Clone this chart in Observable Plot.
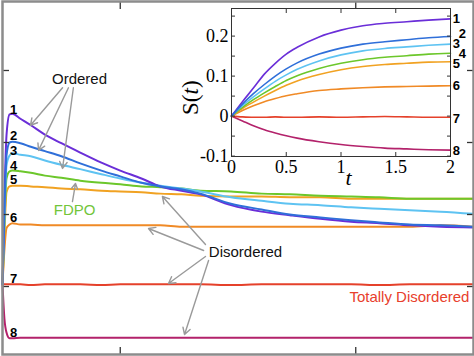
<!DOCTYPE html>
<html><head><meta charset="utf-8">
<script src="https://cdn.jsdelivr.net/npm/d3@7"></script>
<script src="https://cdn.jsdelivr.net/npm/@observablehq/plot@0.6"></script>
<style>
html,body{margin:0;padding:0;background:#fff;}
#wrap{position:relative;width:474px;height:356px;overflow:hidden;}
#inset{position:absolute;left:170px;top:0;}
</style></head><body>
<div id="wrap"><div id="main"></div><div id="inset"></div></div>
<script>
// ---------- main panel data (arbitrary units, unlabelled axes) ----------
const tMain = [0, 0.008, 0.017, 0.03, 0.042, 0.076, 0.12, 0.18, 0.25, 0.33, 0.42, 0.5, 0.59, 0.67, 0.76, 0.84, 0.97, 1.1, 1.22, 1.35, 1.48, 1.6, 1.73, 1.86, 2.0];
const main1 = [0.03,1.19,2.10,2.39,2.40,2.33,2.24,2.11,1.99,1.86,1.72,1.61,1.50,1.39,1.33,1.28,1.13,1.04,0.99,0.94,0.90,0.88,0.85,0.83,0.82];
const main2 = [0.03,1.06,1.82,2.00,2.01,1.99,1.94,1.88,1.81,1.71,1.61,1.53,1.44,1.39,1.35,1.29,1.15,1.07,1.00,0.96,0.92,0.89,0.86,0.85,0.83];
const main3 = [0.03,0.92,1.68,1.82,1.85,1.83,1.81,1.75,1.69,1.63,1.56,1.50,1.44,1.40,1.36,1.32,1.24,1.19,1.15,1.13,1.10,1.08,1.06,1.04,1.01];
const main4 = [0.03,0.85,1.50,1.60,1.61,1.60,1.58,1.54,1.51,1.47,1.44,1.42,1.39,1.38,1.36,1.33,1.32,1.29,1.28,1.26,1.25,1.24,1.22,1.22,1.22];
const main5 = [0.03,0.71,1.31,1.39,1.40,1.40,1.39,1.38,1.36,1.35,1.33,1.32,1.31,1.29,1.28,1.26,1.25,1.25,1.24,1.24,1.22,1.22,1.22,1.22,1.22];
const main6 = [0.03,0.50,0.81,0.86,0.88,0.86,0.86,0.85,0.85,0.85,0.85,0.85,0.85,0.85,0.83,0.83,0.83,0.83,0.83,0.83,0.83,0.83,0.83,0.85,0.83];
const main7 = [0.03,0.03,0.03,0.03,0.03,0.03,0.02,0.03,0.03,0.03,0.02,0.03,0.03,0.03,0.03,0.03,0.02,0.03,0.03,0.03,0.03,0.02,0.03,0.03,0.03];
const main8 = [0.03,-0.44,-0.64,-0.72,-0.72,-0.71,-0.71,-0.71,-0.71,-0.71,-0.71,-0.71,-0.71,-0.71,-0.71,-0.71,-0.71,-0.71,-0.71,-0.71,-0.71,-0.71,-0.71,-0.71,-0.71];
const mainXTicks = [0.5, 1.5];
const mainYTicks = [0, 1, 2, 3];

const seriesNames = ["1","2","3","4","5","6","7","8"];
const mainLabelT = [0.047,0.047,0.047,0.047,0.047,0.047,0.047,0.047];
const mainLabelV = [2.46, 2.09, 1.88, 1.68, 1.48, 0.95, 0.107, -0.648];

// annotations (main data units)
const annoText = ["Ordered", "FDPO", "Disordered", "Totally Disordered"];
const annoT = [0.327, 0.306, 1.032, 1.728];
const annoV = [2.875, 1.056, 0.472, -0.153];
const arrowT1 = [0.255, 0.280, 0.301, 0.297, 0.862, 0.854, 0.862, 0.875];
const arrowV1 = [2.76, 2.76, 2.76, 1.18, 0.583, 0.50, 0.417, 0.361];
const arrowT2 = [0.119, 0.153, 0.255, 0.310, 0.679, 0.620, 0.705, 0.773];
const arrowV2 = [2.24, 1.89, 1.64, 1.43, 1.25, 0.806, 0.042, -0.667];

// ---------- inset data: S(t) ----------
const tInset = [0, 0.1, 0.2, 0.3, 0.4, 0.5, 0.6, 0.8, 1.0, 1.2, 1.4, 1.6, 1.8, 2.0];
const s1 = [0, 0.036, 0.070, 0.105, 0.132, 0.155, 0.172, 0.198, 0.215, 0.226, 0.232, 0.236, 0.240, 0.243];
const s2 = [0, 0.030, 0.056, 0.079, 0.100, 0.118, 0.133, 0.155, 0.170, 0.180, 0.186, 0.191, 0.196, 0.199];
const s3 = [0, 0.026, 0.048, 0.068, 0.087, 0.103, 0.117, 0.138, 0.153, 0.163, 0.169, 0.173, 0.177, 0.180];
const s4 = [0, 0.022, 0.041, 0.058, 0.074, 0.089, 0.101, 0.119, 0.132, 0.141, 0.147, 0.151, 0.155, 0.157];
const s5 = [0, 0.019, 0.035, 0.050, 0.064, 0.077, 0.088, 0.104, 0.116, 0.124, 0.129, 0.132, 0.135, 0.136];
const s6 = [0, 0.014, 0.026, 0.036, 0.044, 0.051, 0.056, 0.064, 0.068, 0.071, 0.073, 0.074, 0.075, 0.076];
const s7 = [0, -0.002, -0.003, -0.003, -0.002, -0.003, -0.003, -0.002, -0.003, -0.002, -0.001, -0.002, -0.003, -0.003];
const s8 = [0, -0.012, -0.024, -0.034, -0.042, -0.049, -0.055, -0.064, -0.071, -0.076, -0.080, -0.082, -0.084, -0.085];
const insetXTicks = [0, 0.5, 1, 1.5, 2];
const insetYLabelTicks = [-0.1, 0, 0.1, 0.2];
const insetYTicks = [-0.1, -0.05, 0, 0.05, 0.1, 0.15, 0.2, 0.25];
const insetLabelT = [2.02, 2.075, 2.02, 2.075, 2.02, 2.02, 2.02, 2.02];
const insetLabelV = [0.243, 0.205, 0.180, 0.155, 0.130, 0.076, -0.007, -0.086];
const insetYTitle = "S(t)", insetYTitleT = -0.374, insetYTitleV = 0.046;
const insetXTitle = "t", insetXTitleT = 1.068, insetXTitleV = -0.154;

// ---------- styling ----------
const colors = ["#6a2ed8", "#2f6fd9", "#5ec3f2", "#6cc72b", "#f1a222", "#f08a26", "#e5412b", "#b3226b"];
const annoColors = ["#111", "#72c53a", "#111", "#e8402c"];

const mainSeries = [main1, main2, main3, main4, main5, main6, main7, main8];
const insetSeries = [s1, s2, s3, s4, s5, s6, s7, s8];

function seriesLines(ts, all, width) {
  const order = [7, 6, 5, 4, 3, 2, 0, 1];
  return order.map(i => Plot.line(all[i].map((v, j) => ({t: ts[j], v})), {
    x: "t", y: "v", stroke: colors[i], strokeWidth: width, curve: "monotone-x"
  }));
}

const noText = () => "";
const arrows = arrowT1.map((_, i) => ({x1: arrowT1[i], y1: arrowV1[i], x2: arrowT2[i], y2: arrowV2[i]}));
const annos = annoText.map((s, i) => ({s, t: annoT[i], v: annoV[i], c: annoColors[i]}));
const mainLabels = seriesNames.map((s, i) => ({s, t: mainLabelT[i], v: mainLabelV[i]}));

const mainPlot = Plot.plot({
  width: 474, height: 356,
  marginLeft: 2, marginRight: 1, marginTop: 1, marginBottom: 2,
  x: {domain: [0, 2]},
  y: {domain: [-0.944, 3.958]},
  style: {background: "white", fontFamily: "Liberation Sans"},
  marks: [
    ...seriesLines(tMain, mainSeries, 2),
    Plot.axisX({anchor: "bottom", ticks: mainXTicks, tickSize: -7, tickFormat: noText, label: null, stroke: "#333", strokeWidth: 1.3}),
    Plot.axisX({anchor: "top", ticks: mainXTicks, tickSize: -7, tickFormat: noText, label: null, stroke: "#333", strokeWidth: 1.3}),
    Plot.axisY({anchor: "left", ticks: mainYTicks, tickSize: -7, tickFormat: noText, label: null, stroke: "#333", strokeWidth: 1.3}),
    Plot.axisY({anchor: "right", ticks: mainYTicks, tickSize: -7, tickFormat: noText, label: null, stroke: "#333", strokeWidth: 1.3}),
    Plot.arrow(arrows, {x1: "x1", y1: "y1", x2: "x2", y2: "y2", stroke: "#9a9a9a", strokeWidth: 1.4, headLength: 8}),
    Plot.text(annos, {x: "t", y: "v", text: "s", fill: d => d.c, fontSize: 15, fontFamily: "Liberation Sans"}),
    Plot.text(mainLabels, {x: "t", y: "v", text: "s", fill: "#000", fontSize: 13, fontWeight: "bold", fontFamily: "Liberation Sans"}),
    Plot.frame({stroke: "#8c8c8c", strokeWidth: 2.5})
  ]
});
document.getElementById("main").append(mainPlot);

const insetLabels = seriesNames.map((s, i) => ({s, t: insetLabelT[i], v: insetLabelV[i]}));
const fmt = d => d === 0 ? "0" : String(d);
const yFmt = d => d === 0 ? "0" : d.toFixed(1);

const insetPlot = Plot.plot({
  width: 304, height: 190,
  marginLeft: 61, marginRight: 24, marginTop: 8, marginBottom: 34,
  x: {domain: [0, 2]},
  y: {domain: [-0.101, 0.269]},
  style: {background: "transparent", fontFamily: "Liberation Serif", fontSize: "18px", overflow: "visible"},
  marks: [
    Plot.frame({fill: "white"}),
    ...seriesLines(tInset, insetSeries, 1.6),
    Plot.axisX({anchor: "bottom", ticks: insetXTicks, tickSize: -4, tickFormat: noText, label: null, stroke: "#333"}),
    Plot.axisX({anchor: "top", ticks: insetXTicks, tickSize: -4, tickFormat: noText, label: null, stroke: "#333"}),
    Plot.axisY({anchor: "left", ticks: insetYTicks, tickSize: -4, tickFormat: noText, label: null, stroke: "#333"}),
    Plot.axisY({anchor: "right", ticks: insetYTicks, tickSize: -4, tickFormat: noText, label: null, stroke: "#333"}),
    Plot.axisX({anchor: "bottom", ticks: insetXTicks, tickSize: 0, tickPadding: 4, tickFormat: fmt, label: null}),
    Plot.axisY({anchor: "left", ticks: insetYLabelTicks, tickSize: 0, tickPadding: 3, tickFormat: yFmt, label: null}),
    Plot.text(insetLabels, {x: "t", y: "v", text: "s", textAnchor: "start", fill: "#000", fontSize: 13, fontWeight: "bold", fontFamily: "Liberation Sans"}),
    Plot.text([insetYTitle], {x: insetYTitleT, y: insetYTitleV, text: d => d, rotate: -90, fontSize: 23, fontFamily: "Liberation Serif"}),
    Plot.text([insetXTitle], {x: insetXTitleT, y: insetXTitleV, text: d => d, fontSize: 22, fontStyle: "italic", fontFamily: "Liberation Serif"}),
    Plot.frame({stroke: "#333", strokeWidth: 1})
  ]
});
document.getElementById("inset").append(insetPlot);

// italicise the t inside S(t)
insetPlot.querySelectorAll("text").forEach(el => {
  if (el.textContent === "S(t)") {
    el.textContent = "";
    const ns = "http://www.w3.org/2000/svg";
    const a = document.createElementNS(ns, "tspan"); a.textContent = "S(";
    const b = document.createElementNS(ns, "tspan"); b.textContent = "t"; b.setAttribute("font-style", "italic");
    const c = document.createElementNS(ns, "tspan"); c.textContent = ")";
    el.append(a, b, c);
  }
});
</script>
</body></html>
